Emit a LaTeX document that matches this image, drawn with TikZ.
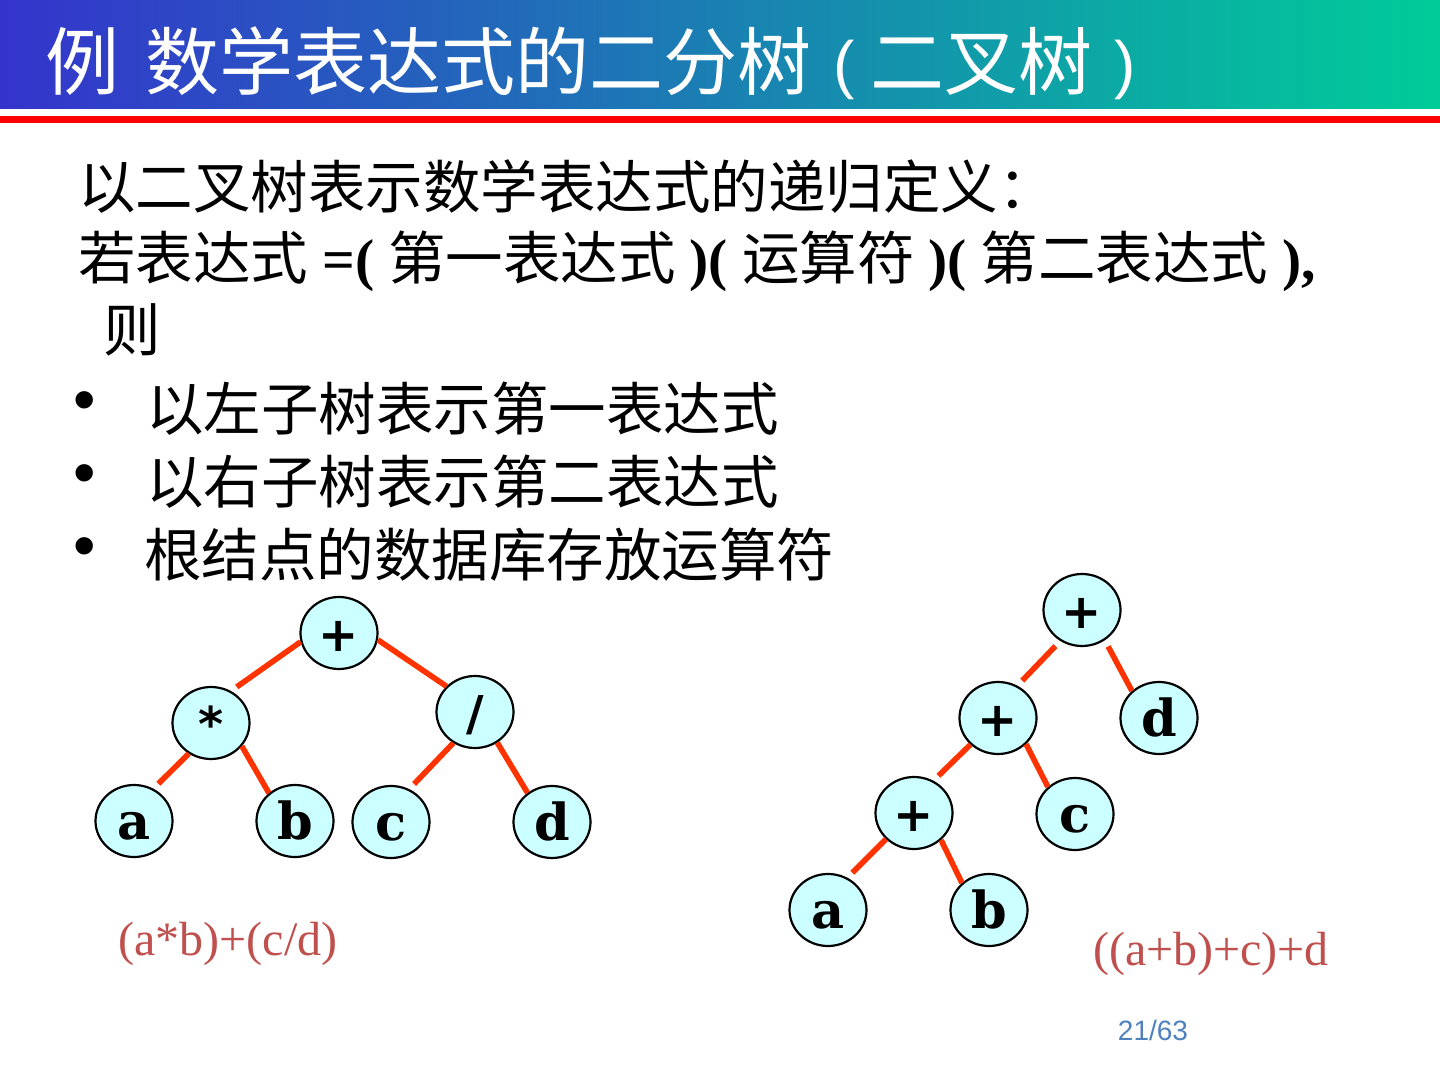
\documentclass[tikz,border=0pt]{standalone}
\usepackage{fontspec}
\setmainfont{Liberation Serif}
\newfontfamily\cjk{Noto Sans CJK SC}
\newfontfamily\lsans{Liberation Sans}
\newfontfamily\dvserif{DejaVu Serif}
\newfontfamily\dvsans{DejaVu Sans}
\usetikzlibrary{shapes.geometric}
\definecolor{hdrL}{RGB}{52,52,204}
\definecolor{hdrR}{RGB}{0,204,153}
\definecolor{edgeC}{RGB}{255,51,0}
\definecolor{nodeC}{RGB}{204,255,255}
\definecolor{formC}{RGB}{192,80,77}
\definecolor{pageC}{RGB}{79,129,189}
\newcommand{\bodyfont}{\fontsize{28.75pt}{34pt}\selectfont}
\newcommand{\blat}[1]{{\bfseries #1}}
\newcommand{\tparen}[1]{\raisebox{1.5pt}{\lsans\fontsize{32pt}{32pt}\selectfont #1}}
\begin{document}
\begin{tikzpicture}[x=0.5pt,y=-0.5pt,
  tnode/.style={ellipse, draw=black, line width=1.1pt, fill=nodeC,
    minimum width=38.5pt, minimum height=36pt, inner sep=0pt,
    text height=18pt, text depth=0pt},
  letter/.style={tnode, font=\dvserif\bfseries\fontsize{25.5pt}{25.5pt}\selectfont},
  opr/.style={tnode, font=\dvsans\bfseries\fontsize{24pt}{24pt}\selectfont},
  tedge/.style={draw=edgeC, line width=2.8pt},
  gapend/.style={shorten >=3.5pt},
  gapstart/.style={shorten <=3.5pt},
  body/.style={anchor=base west, inner sep=0pt, font=\bodyfont},
  bul/.style={inner sep=0pt, font=\lsans\fontsize{32pt}{32pt}\selectfont},
  formula/.style={inner sep=0pt, text=formC, font=\fontsize{24pt}{24pt}\selectfont}]
\fill[white] (0,0) rectangle (1440,1080);
\useasboundingbox (0,0) rectangle (1440,1080);
% header
\shade[left color=hdrL, right color=hdrR] (0,0) rectangle (1440,109);
\fill[red] (0,116) rectangle (1440,123);
\node[anchor=base west, inner sep=0pt, text=white, font=\fontsize{37pt}{40pt}\selectfont] (title) at (45,90)
  {{\cjk 例}\hspace{13pt}{\cjk 数学表达式的二分树}\hspace{11pt}\tparen{(}\hspace{8pt}{\cjk 二叉树}\hspace{11pt}\tparen{)}};
% body text
\node[body] (l1) at (78,209) {\cjk 以二叉树表示数学表达式的递归定义：};
\node[body] (l2) at (78,280) {{\cjk 若表达式}\hspace{7pt}\blat{=(}\hspace{7pt}{\cjk 第一表达式}\hspace{7pt}\blat{)(}\hspace{7pt}{\cjk 运算符}\hspace{7pt}\blat{)(}\hspace{7pt}{\cjk 第二表达式}\hspace{7pt}\blat{),}};
\node[body] (l3) at (103,352) {\cjk 则};
\node[bul] (b1) at (85,407) {•};
\node[bul] (b2) at (85,480) {•};
\node[bul] (b3) at (85,553) {•};
\node[body] (l4) at (146,430) {\cjk 以左子树表示第一表达式};
\node[body] (l5) at (146,503) {\cjk 以右子树表示第二表达式};
\node[body] (l6) at (144,576) {\cjk 根结点的数据库存放运算符};
% left tree
\node[opr] (Lp) at (339,633) {+};
\node[opr] (Lm) at (211,723) {*};
\node[opr] (Ld) at (475,712) {/};
\node[letter] (La) at (134,821) {a};
\node[letter] (Lb) at (295,821) {b};
\node[letter] (Lc) at (391,822) {c};
\node[letter] (Ldd) at (552,822) {d};
\draw[tedge, gapend] (Lp.193) -- (Lm.58);
\draw[tedge] (Lp.350) -- (Ld.138);
\draw[tedge, gapend] (Lm.234) -- (La.59);
\draw[tedge] (Lm.323) -- (Lb.133);
\draw[tedge, gapend] (Ld.235) -- (Lc.61);
\draw[tedge] (Ld.306) -- (Ldd.130);
% right tree
\node[opr] (R1) at (1082,610) {+};
\node[opr] (R2) at (998,718) {+};
\node[letter] (Rd) at (1159,718) {d};
\node[opr] (R3) at (914,813) {+};
\node[letter] (Rc) at (1075,814) {c};
\node[letter] (Ra) at (828,910) {a};
\node[letter] (Rb) at (989,910) {b};
\draw[tedge, gapstart, gapend] (R1.235) -- (R2.59);
\draw[tedge, gapstart] (R1.307) -- (Rd.135);
\draw[tedge, gapend] (R2.224) -- (R3.59);
\draw[tedge] (R2.317) -- (Rc.135);
\draw[tedge, gapend] (R3.223) -- (Ra.59);
\draw[tedge] (R3.315) -- (Rb.135);
% formulas
\node[formula] (f1) at (228,944) {(a*b)+(c/d)};
\node[formula] (f2) at (1211,954) {((a+b)+c)+d};
\node[inner sep=0pt, text=pageC, font=\lsans\fontsize{14pt}{14pt}\selectfont] (pg) at (1153,1030) {21/63};
\end{tikzpicture}
\end{document}
